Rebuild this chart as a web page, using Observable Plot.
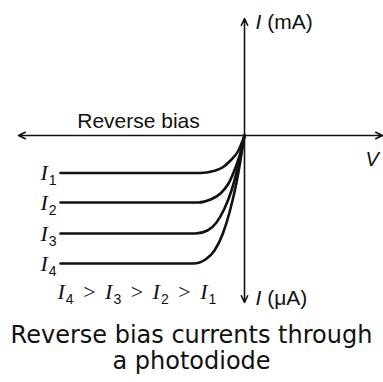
<!DOCTYPE html>
<html>
<head>
<meta charset="utf-8">
<script src="https://cdn.jsdelivr.net/npm/d3@7"></script>
<script src="https://cdn.jsdelivr.net/npm/@observablehq/plot@0.6"></script>
<style>
  body { margin: 0; background: #fff; }
  #chart svg { display: block; }
  .caption {
    width: 383px;
    font-family: "DejaVu Sans", sans-serif;
    font-size: 24px;
    line-height: 26px;
    text-align: center;
    color: #111;
  }
</style>
</head>
<body>
<div id="chart"></div>
<div class="caption">Reverse bias currents through<br>a photodiode</div>
<script>
// Photocurrent curves under reverse bias (arbitrary units), one per light level.
const seriesNames = ["I_1", "I_2", "I_3", "I_4"];
const voltages = [
  [-18.4, -4.4, -3.1, -2.2, -1.4, -0.6, 0],
  [-18.4, -4.6, -3.4, -2.4, -1.6, -0.9, -0.4, 0],
  [-18.4, -4.9, -3.7, -2.8, -2.0, -1.3, -0.7, 0],
  [-18.4, -5.1, -3.9, -3.0, -2.2, -1.5, -0.8, 0]
];
const currents = [
  [-3.75, -3.75, -3.55, -3.2, -2.5, -1.5, 0],
  [-6.7, -6.7, -6.4, -5.8, -4.8, -3.2, -1.7, 0],
  [-9.8, -9.8, -9.5, -8.7, -7.3, -5.5, -3.3, 0],
  [-12.8, -12.8, -12.4, -11.5, -9.9, -7.7, -4.7, 0]
];

// Axis extents (same units) and their labels
const axisEnds = { left: -22.6, right: 13.8, top: 11.7, bottom: -16.7 };
const upperAxisLabel = "I (mA)";
const lowerAxisLabel = "I (μA)";
const voltageLabel = "V";
const regionLabel = "Reverse bias";
const orderingLabel = "I_4 > I_3 > I_2 > I_1";

const points = seriesNames.flatMap((name, k) =>
  voltages[k].map((v, j) => ({ series: name, v, i: currents[k][j] }))
);
const starts = seriesNames.map((name, k) => ({ series: name, v: voltages[k][0], i: currents[k][0] }));

const axes = [
  { v: axisEnds.left, i: 0 },
  { v: axisEnds.right, i: 0 },
  { v: 0, i: axisEnds.top },
  { v: 0, i: axisEnds.bottom }
];

const chart = Plot.plot({
  width: 383,
  height: 322,
  margin: 0,
  x: { domain: [-24.4, 13.9], axis: null },
  y: { domain: [-18.7, 13.5], axis: null },
  marks: [
    Plot.arrow(axes, {
      x1: 0, y1: 0, x2: "v", y2: "i",
      stroke: "#111", strokeWidth: 1.6, headLength: 7, headAngle: 50
    }),
    Plot.line(points, {
      x: "v", y: "i", z: "series",
      curve: "monotone-x", stroke: "#111", strokeWidth: 2.6
    }),
    Plot.text(starts, {
      x: "v", y: "i", text: "series",
      textAnchor: "end", lineAnchor: "bottom", dx: -4, dy: 7,
      fontFamily: "Liberation Serif", fontSize: 22, fill: "#111"
    }),
    Plot.text([orderingLabel], {
      x: -18.7, y: -16.3, text: d => d,
      textAnchor: "start", lineAnchor: "bottom",
      fontFamily: "Liberation Serif", fontSize: 22, fill: "#111"
    }),
    Plot.text([regionLabel], {
      x: -10.6, y: 0.8, text: d => d,
      textAnchor: "middle", lineAnchor: "bottom",
      fontFamily: "Liberation Sans", fontSize: 21, fill: "#111"
    }),
    Plot.text([upperAxisLabel, lowerAxisLabel], {
      x: 1.1, y: [10.7, -16.9], text: d => d,
      textAnchor: "start", lineAnchor: "bottom",
      fontFamily: "Liberation Sans", fontSize: 21, fill: "#111"
    }),
    Plot.text([voltageLabel], {
      x: 12.1, y: -3.0, text: d => d,
      textAnchor: "start", lineAnchor: "bottom",
      fontFamily: "Liberation Sans", fontSize: 20, fontStyle: "italic", fill: "#111"
    })
  ]
});

// Italic current symbol "I" and "_n" subscripts inside text labels
function typeset(svg) {
  d3.select(svg).selectAll("text").each(function () {
    const s = this.textContent;
    if (!/I|_\d/.test(s)) return;
    const t = d3.select(this).text(null);
    if (s.includes(" > ")) t.attr("word-spacing", "4px");
    let lowered = false;
    for (const part of s.split(/(_\d|I)/).filter(Boolean)) {
      const span = t.append("tspan");
      if (part[0] === "_") {
        span.attr("font-family", "Liberation Sans").attr("font-size", 14)
          .attr("font-style", "normal").attr("dx", 1).attr("dy", 5).text(part[1]);
        lowered = true;
        continue;
      }
      if (lowered) { span.attr("dy", -5); lowered = false; }
      if (part === "I") span.attr("font-style", "italic").text("I");
      else span.text(part);
    }
  });
}
typeset(chart);

document.getElementById("chart").append(chart);
</script>
</body>
</html>
